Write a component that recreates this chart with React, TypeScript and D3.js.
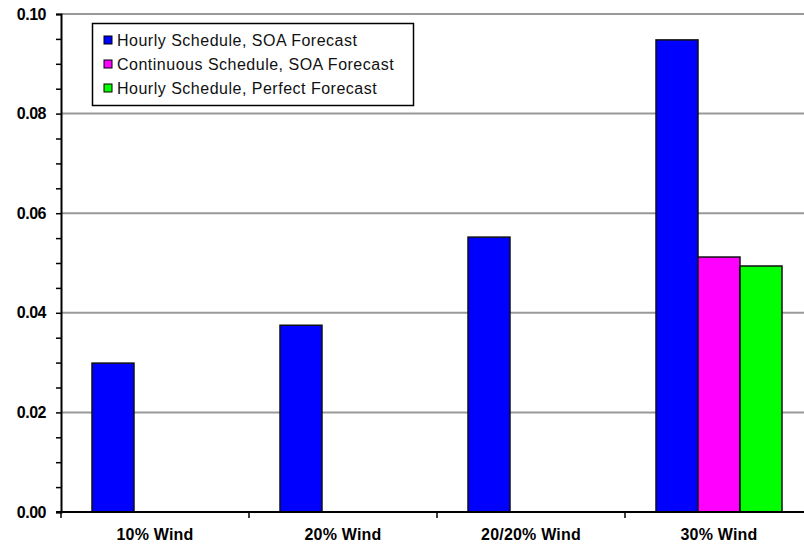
import React, { useEffect, useRef } from 'react';
import * as d3 from 'd3';

const categories = ['10% Wind', '20% Wind', '20/20% Wind', '30% Wind'];
const seriesNames = [
  'Hourly Schedule, SOA Forecast',
  'Continuous Schedule, SOA Forecast',
  'Hourly Schedule, Perfect Forecast',
];
const seriesColors = ['#0000ff', '#ff00ff', '#00ff00'];
const hourlySOA = [0.0299, 0.0375, 0.0552, 0.0948];
const continuousSOA = [null, null, null, 0.0512];
const hourlyPerfect = [null, null, null, 0.0494];
const yTickLabels = [0, 0.02, 0.04, 0.06, 0.08, 0.1];

const App: React.FC = () => {
  const svgRef = useRef<SVGSVGElement>(null);

  useEffect(() => {
    document.body.style.margin = '0';
    if (!svgRef.current) return;
    const svg = d3.select(svgRef.current);
    svg.selectAll('*').remove();

    const left = 61;
    const right = 813;
    const top = 14;
    const bottom = 512;
    const font = '"Liberation Sans", Arial, sans-serif';

    const x0 = d3.scaleBand<string>().domain(categories).range([left, right]).paddingInner(0).paddingOuter(0);
    const x1 = d3.scaleBand<number>().domain([0, 1, 2]).range([0, x0.bandwidth()]).paddingInner(0).paddingOuter(0.738);
    const y = d3.scaleLinear().domain([0, 0.1]).range([bottom, top]);

    // Grid lines
    svg.append('g')
      .selectAll('line')
      .data(yTickLabels.slice(1))
      .enter()
      .append('line')
      .attr('x1', left)
      .attr('x2', 804)
      .attr('y1', d => y(d))
      .attr('y2', d => y(d))
      .attr('stroke', '#999')
      .attr('stroke-width', 2);

    // Bars
    const series = [hourlySOA, continuousSOA, hourlyPerfect];
    const bars: { cat: string; s: number; v: number }[] = [];
    categories.forEach((c, i) => {
      series.forEach((arr, s) => {
        const v = arr[i];
        if (v != null) bars.push({ cat: c, s, v });
      });
    });
    svg.append('g')
      .selectAll('rect')
      .data(bars)
      .enter()
      .append('rect')
      .attr('x', d => (x0(d.cat) ?? 0) + (x1(d.s) ?? 0))
      .attr('width', x1.bandwidth())
      .attr('y', d => y(d.v))
      .attr('height', d => y(0) - y(d.v))
      .attr('fill', d => seriesColors[d.s])
      .attr('stroke', '#111')
      .attr('stroke-width', 1.5);

    // Y axis
    const yAxis = d3.axisLeft(y)
      .tickValues(d3.range(0, 0.1001, 0.005))
      .tickSize(5)
      .tickFormat(d => {
        const v = +d;
        return yTickLabels.some(t => Math.abs(t - v) < 1e-9) ? d3.format('.2f')(v) : '';
      });
    const ya = svg.append('g')
      .attr('transform', `translate(${left},0)`)
      .call(yAxis);
    ya.select('.domain').attr('stroke', '#000').attr('stroke-width', 2);
    ya.selectAll('line').attr('stroke', '#000').attr('stroke-width', 1.5);
    ya.selectAll('text')
      .attr('x', -15)
      .attr('fill', '#000')
      .style('font-family', font)
      .style('font-weight', 'bold')
      .style('font-size', '16px')
      .style('letter-spacing', '-0.5px');

    // X axis
    const boundaries = categories.map(c => x0(c) ?? 0);
    const xa = svg.append('g');
    xa.append('line')
      .attr('x1', left - 5)
      .attr('x2', 804)
      .attr('y1', bottom)
      .attr('y2', bottom)
      .attr('stroke', '#000')
      .attr('stroke-width', 2);
    xa.selectAll('line.tick')
      .data(boundaries)
      .enter()
      .append('line')
      .attr('class', 'tick')
      .attr('x1', d => d)
      .attr('x2', d => d)
      .attr('y1', bottom)
      .attr('y2', bottom + 6)
      .attr('stroke', '#000')
      .attr('stroke-width', 1.5);
    xa.selectAll('text')
      .data(categories)
      .enter()
      .append('text')
      .attr('x', d => (x0(d) ?? 0) + x0.bandwidth() / 2)
      .attr('y', 540)
      .attr('text-anchor', 'middle')
      .style('font-family', font)
      .style('font-weight', 'bold')
      .style('font-size', '16px')
      .style('letter-spacing', '0.2px')
      .text(d => d);

    // Legend
    const lg = svg.append('g');
    lg.append('rect')
      .attr('x', 92.5)
      .attr('y', 23.5)
      .attr('width', 321)
      .attr('height', 82)
      .attr('fill', '#fff')
      .attr('stroke', '#000')
      .attr('stroke-width', 1.5);
    const items = lg.selectAll('g.item')
      .data(seriesNames)
      .enter()
      .append('g')
      .attr('class', 'item')
      .attr('transform', (_, i) => `translate(104,${40 + i * 24})`);
    items.append('rect')
      .attr('x', 0)
      .attr('y', -4)
      .attr('width', 8)
      .attr('height', 8)
      .attr('fill', (_, i) => seriesColors[i])
      .attr('stroke', '#000')
      .attr('stroke-width', 1);
    items.append('text')
      .attr('x', 13)
      .attr('y', 6)
      .style('font-family', font)
      .style('font-size', '16px')
      .style('letter-spacing', '0.5px')
      .attr('fill', '#111')
      .text(d => d);
  }, []);

  return <svg ref={svgRef} width={804} height={548} style={{ display: 'block', background: '#fff' }} />;
};

export default App;
